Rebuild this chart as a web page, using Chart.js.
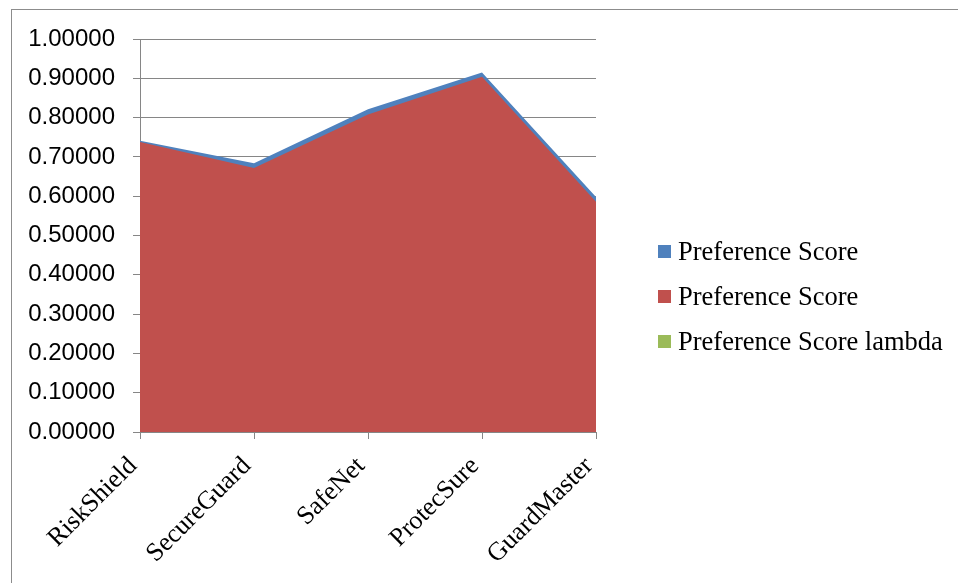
<!DOCTYPE html>
<html>
<head>
<meta charset="utf-8">
<script src="https://cdn.jsdelivr.net/npm/chart.js@4/dist/chart.umd.min.js"></script>
<style>
  html, body { margin: 0; padding: 0; background: #fff; overflow: hidden; }
  #wrap { position: relative; width: 958px; height: 583px; }
  #frame { position: absolute; left: 11px; top: 9px; width: 980px; height: 620px; border: 1px solid #8c8c8c; box-sizing: border-box; }
  canvas { position: absolute; left: 0; top: 0; }
  #legend { position: absolute; left: 658px; top: 229px; font-family: "Liberation Serif", "Times New Roman", serif; font-size: 26.5px; color: #000; }
  .item { height: 45px; display: flex; align-items: center; white-space: nowrap; }
  .box { width: 13px; height: 13px; margin-right: 7px; }
</style>
</head>
<body>
<div id="wrap">
  <div id="frame"></div>
  <canvas id="c" width="958" height="583"></canvas>
  <div id="legend"></div>
</div>
<script>
const categories = ["RiskShield", "SecureGuard", "SafeNet", "ProtecSure", "GuardMaster"];
const seriesNames = ["Preference Score", "Preference Score", "Preference Score lambda"];
const preferenceScoreA = [0.741, 0.684, 0.821, 0.915, 0.598];
const preferenceScoreB = [0.738, 0.672, 0.808, 0.904, 0.586];
const preferenceScoreLambda = [0, 0, 0, 0, 0];
const seriesColors = ["#4F81BD", "#C0504D", "#9BBB59"];

const mk = (i, data, order) => ({
  label: seriesNames[i],
  data: data,
  backgroundColor: seriesColors[i],
  borderColor: seriesColors[i],
  borderWidth: 0,
  pointRadius: 0,
  pointHoverRadius: 0,
  tension: 0,
  fill: 'origin',
  order: order
});

const chart = new Chart(document.getElementById('c'), {
  type: 'line',
  data: {
    labels: categories,
    datasets: [
      mk(0, preferenceScoreA, 3),
      mk(1, preferenceScoreB, 2),
      mk(2, preferenceScoreLambda, 1)
    ]
  },
  options: {
    responsive: false,
    animation: false,
    layout: { padding: { left: 0, right: 362, top: 39, bottom: 0 } },
    plugins: { legend: { display: false }, tooltip: { enabled: false } },
    scales: {
      x: {
        offset: false,
        afterFit: s => { s.height = 151; },
        grid: { display: true, drawOnChartArea: false, drawTicks: true, tickLength: 7, color: '#868686', lineWidth: 1 },
        border: { display: true, color: '#868686', width: 1 },
        ticks: {
          maxRotation: 45, minRotation: 45, padding: 12, autoSkip: false, labelOffset: -7,
          color: '#000',
          font: { family: '"Liberation Serif", "Times New Roman", serif', size: 26 }
        }
      },
      y: {
        min: 0, max: 1,
        afterFit: s => { s.width = 140; },
        grid: { color: '#868686', lineWidth: 1, tickLength: 7 },
        border: { display: true, color: '#868686', width: 1 },
        ticks: {
          stepSize: 0.1, padding: 18, color: '#000',
          font: { family: '"Liberation Sans", Arial, sans-serif', size: 24 },
          callback: v => Number(v).toFixed(5)
        }
      }
    }
  }
});

const leg = document.getElementById('legend');
chart.data.datasets.forEach(ds => {
  const row = document.createElement('div');
  row.className = 'item';
  const b = document.createElement('span');
  b.className = 'box';
  b.style.background = ds.backgroundColor;
  row.appendChild(b);
  row.appendChild(document.createTextNode(ds.label));
  leg.appendChild(row);
});
</script>
</body>
</html>
